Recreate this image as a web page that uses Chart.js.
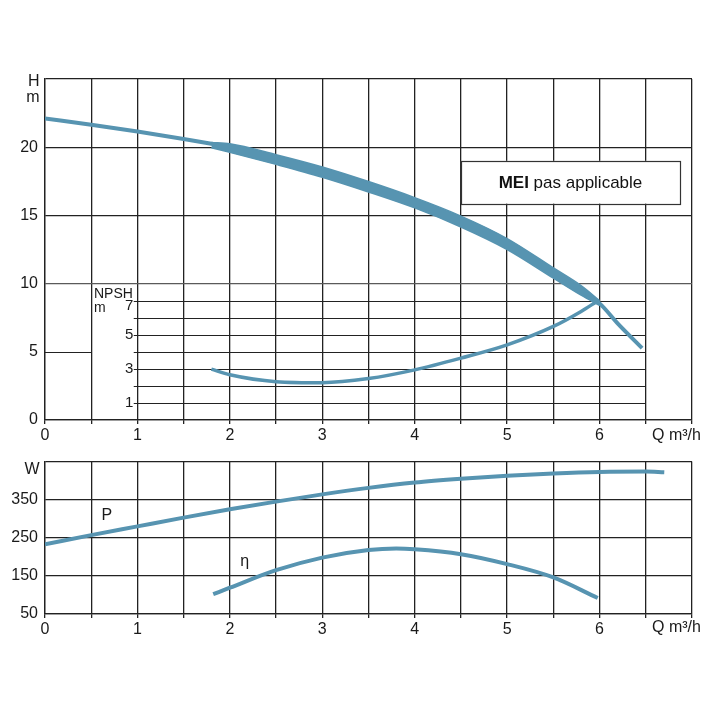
<!DOCTYPE html>
<html><head><meta charset="utf-8">
<script src="https://cdn.jsdelivr.net/npm/chart.js@4/dist/chart.umd.min.js"></script>
<style>
html,body{margin:0;padding:0;background:#fff;}
#c1{position:absolute;left:0;top:0;width:720px;height:445px;}
#c2{position:absolute;left:0;top:445px;width:720px;height:200px;}
</style></head><body>
<canvas id="c1" width="720" height="445"></canvas>
<canvas id="c2" width="720" height="200"></canvas>
<script>
// ---- Data ----
const headQ   = [0, 0.5, 1, 1.5, 1.8, 2, 2.5, 3, 3.5, 4, 4.5, 5, 5.5, 5.8, 6, 6.2, 6.46];
const headH   = [22.1, 21.65, 21.15, 20.6, 20.25, 20.0, 19.1, 18.15, 17.05, 15.95, 14.55, 12.9, 10.75, 9.5, 8.55, 7.05, 5.27];
const bandQ   = [1.8, 2, 2.5, 3, 3.5, 4, 4.5, 5, 5.5, 5.8, 6];
const bandTop = [20.35, 20.25, 19.45, 18.55, 17.48, 16.3, 14.95, 13.3, 11.15, 9.85, 8.75];
const bandBot = [19.96, 19.62, 18.74, 17.8, 16.72, 15.55, 14.15, 12.5, 10.4, 9.15, 8.4];
const npshQ   = [1.8, 2, 2.5, 3, 3.5, 4, 4.5, 5, 5.5, 5.8, 5.97];
const npshV   = [2.98, 2.65, 2.25, 2.19, 2.43, 2.94, 3.63, 4.41, 5.49, 6.37, 6.95];
const powerQ  = [0, 0.5, 1, 1.5, 2, 2.5, 3, 3.5, 4, 4.5, 5, 5.5, 6, 6.5, 6.7];
const powerW  = [233, 257, 280, 303, 325, 345, 364, 381, 395, 405, 413, 419, 423, 424, 422];
const etaQ    = [1.82, 2, 2.5, 3, 3.5, 3.8, 4, 4.5, 5, 5.5, 5.98];
const etaV    = [102, 119, 165, 198, 218, 222, 220, 207, 181, 146, 92];
const qTickLabels    = [0, 1, 2, 3, 4, 5, 6];
const hTickLabels    = [0, 5, 10, 15, 20];
const npshGridLines  = [1, 2, 3, 4, 5, 6, 7];
const npshTickLabels = [1, 3, 5, 7];
const wTickLabels    = [50, 150, 250, 350];

const BLUE = '#5794b1';
const GRID = '#222222';
const FONT = "'Liberation Sans', Arial, Helvetica, sans-serif";
const pts = (xs, ys) => xs.map((x, i) => ({x, y: ys[i]}));

function crisp(v){ return Math.round(v) + 0.5; }
function hline(ctx, x0, x1, y){ ctx.beginPath(); ctx.moveTo(x0, crisp(y)); ctx.lineTo(x1, crisp(y)); ctx.stroke(); }

const xAxisCommon = (h) => ({
  type: 'linear', min: 0, max: 7,
  afterFit(s){ s.height = h; },
  border: {display: true, color: GRID, width: 1.3},
  grid: {color: GRID, lineWidth: 1.3, drawTicks: true, tickLength: 4, tickColor: GRID},
  ticks: {
    stepSize: 0.5, autoSkip: false, maxRotation: 0, padding: 2, color: '#1a1a1a',
    font: {family: FONT, size: 16},
    callback: v => (qTickLabels.includes(v) ? String(v) : '')
  }
});

// ---- Top chart ----
const topDecor = {
  id: 'topDecor',
  beforeDatasetsDraw(chart){
    const ctx = chart.ctx, x = chart.scales.x, y = chart.scales.y, n = chart.scales.npsh;
    ctx.save();
    ctx.strokeStyle = GRID; ctx.lineWidth = 1.2;
    hline(ctx, x.getPixelForValue(0), x.getPixelForValue(0.5), y.getPixelForValue(5));
    npshGridLines.forEach(v => hline(ctx, x.getPixelForValue(0.96), x.getPixelForValue(6.5), n.getPixelForValue(v)));
    // MEI box
    const bx0 = x.getPixelForValue(4.5), bx1 = x.getPixelForValue(6.87);
    const by0 = y.getPixelForValue(19.0), by1 = y.getPixelForValue(15.86);
    ctx.fillStyle = '#fff';
    ctx.fillRect(bx0, by0, bx1 - bx0, by1 - by0);
    ctx.strokeStyle = '#333'; ctx.lineWidth = 1.2;
    ctx.strokeRect(crisp(bx0), crisp(by0), Math.round(bx1 - bx0), Math.round(by1 - by0));
    ctx.fillStyle = '#111';
    ctx.textBaseline = 'alphabetic';
    const t1 = 'MEI', t2 = ' pas applicable';
    ctx.font = `bold 17px ${FONT}`; const w1 = ctx.measureText(t1).width;
    ctx.font = `17px ${FONT}`; const w2 = ctx.measureText(t2).width;
    const cx = (bx0 + bx1) / 2, base = (by0 + by1) / 2 + 5.5;
    ctx.textAlign = 'left';
    ctx.font = `bold 17px ${FONT}`; ctx.fillText(t1, cx - (w1 + w2) / 2, base);
    ctx.font = `17px ${FONT}`; ctx.fillText(t2, cx - (w1 + w2) / 2 + w1, base);
    ctx.restore();
  },
  afterDraw(chart){
    const ctx = chart.ctx, x = chart.scales.x, n = chart.scales.npsh;
    const a = chart.chartArea;
    ctx.save();
    ctx.fillStyle = '#1a1a1a';
    ctx.textBaseline = 'middle'; ctx.textAlign = 'right';
    ctx.font = `15px ${FONT}`;
    npshTickLabels.forEach(v => ctx.fillText(String(v), x.getPixelForValue(1) - 4, n.getPixelForValue(v) + (v === 7 ? 5.5 : 0)));
    ctx.textBaseline = 'alphabetic'; ctx.textAlign = 'left';
    ctx.font = `14px ${FONT}`;
    ctx.fillText('NPSH', x.getPixelForValue(0.53), 298);
    ctx.fillText('m', x.getPixelForValue(0.53), 312);
    ctx.textAlign = 'right';
    ctx.font = `16px ${FONT}`;
    ctx.fillText('H', a.left - 5.5, 86);
    ctx.fillText('m', a.left - 5.5, 101.5);
    ctx.textAlign = 'left';
    ctx.fillText('Q m³/h', 652, a.bottom + 20);
    ctx.restore();
  }
};

const lineDs = (data, w, extra) => Object.assign({data, borderColor: BLUE, borderWidth: w, fill: false, pointRadius: 0, cubicInterpolationMode: 'monotone'}, extra || {});

new Chart(document.getElementById('c1'), {
  type: 'line',
  data: {
    datasets: [
      lineDs(pts(bandQ, bandTop), 1.5, {backgroundColor: BLUE, fill: '+1'}),
      lineDs(pts(bandQ, bandBot), 1.5),
      lineDs(pts(headQ, headH), 4),
      lineDs(pts(npshQ, npshV), 3.5, {yAxisID: 'npsh'})
    ]
  },
  options: {
    responsive: false, animation: false,
    layout: {padding: {top: 79, right: 28, left: 0, bottom: 0}},
    plugins: {legend: {display: false}, tooltip: {enabled: false}},
    scales: {
      x: xAxisCommon(25),
      y: {
        min: 0, max: 25,
        afterFit(s){ s.width = 45; },
        border: {display: true, color: GRID, width: 1.3},
        grid: {drawTicks: false, lineWidth: 1.3,
          color: c => (c.tick && c.tick.value === 5 ? 'rgba(0,0,0,0)' : (c.tick && c.tick.value === 10 ? '#5a5a5a' : GRID))},
        ticks: {stepSize: 5, padding: 7, color: '#1a1a1a', font: {family: FONT, size: 16},
          callback: v => (hTickLabels.includes(v) ? String(v) : '')}
      },
      npsh: {display: false, min: 0, max: 20, position: 'left'}
    }
  },
  plugins: [topDecor]
});

// ---- Bottom chart ----
const botDecor = {
  id: 'botDecor',
  afterDraw(chart){
    const ctx = chart.ctx, x = chart.scales.x, y = chart.scales.y, a = chart.chartArea;
    ctx.save();
    ctx.fillStyle = '#1a1a1a';
    ctx.textBaseline = 'middle'; ctx.textAlign = 'center';
    ctx.font = `16px ${FONT}`;
    ctx.fillText('P', x.getPixelForValue(0.67), y.getPixelForValue(309));
    ctx.fillText('η', x.getPixelForValue(2.16), y.getPixelForValue(187));
    ctx.textBaseline = 'alphabetic'; ctx.textAlign = 'right';
    ctx.fillText('W', a.left - 5.5, 28.5);
    ctx.textAlign = 'left';
    ctx.fillText('Q m³/h', 652, a.bottom + 18);
    ctx.restore();
  }
};

new Chart(document.getElementById('c2'), {
  type: 'line',
  data: {
    datasets: [
      lineDs(pts(powerQ, powerW), 4),
      lineDs(pts(etaQ, etaV), 4)
    ]
  },
  options: {
    responsive: false, animation: false,
    layout: {padding: {top: 11, right: 28, left: 0, bottom: 0}},
    plugins: {legend: {display: false}, tooltip: {enabled: false}},
    scales: {
      x: xAxisCommon(31),
      y: {
        min: 50, max: 450,
        afterFit(s){ s.width = 45; },
        border: {display: true, color: GRID, width: 1.3},
        grid: {drawTicks: false, lineWidth: 1.3, color: GRID},
        ticks: {stepSize: 100, padding: 7, color: '#1a1a1a', font: {family: FONT, size: 16},
          callback: v => (wTickLabels.includes(v) ? String(v) : '')}
      }
    }
  },
  plugins: [botDecor]
});
</script>
</body></html>
